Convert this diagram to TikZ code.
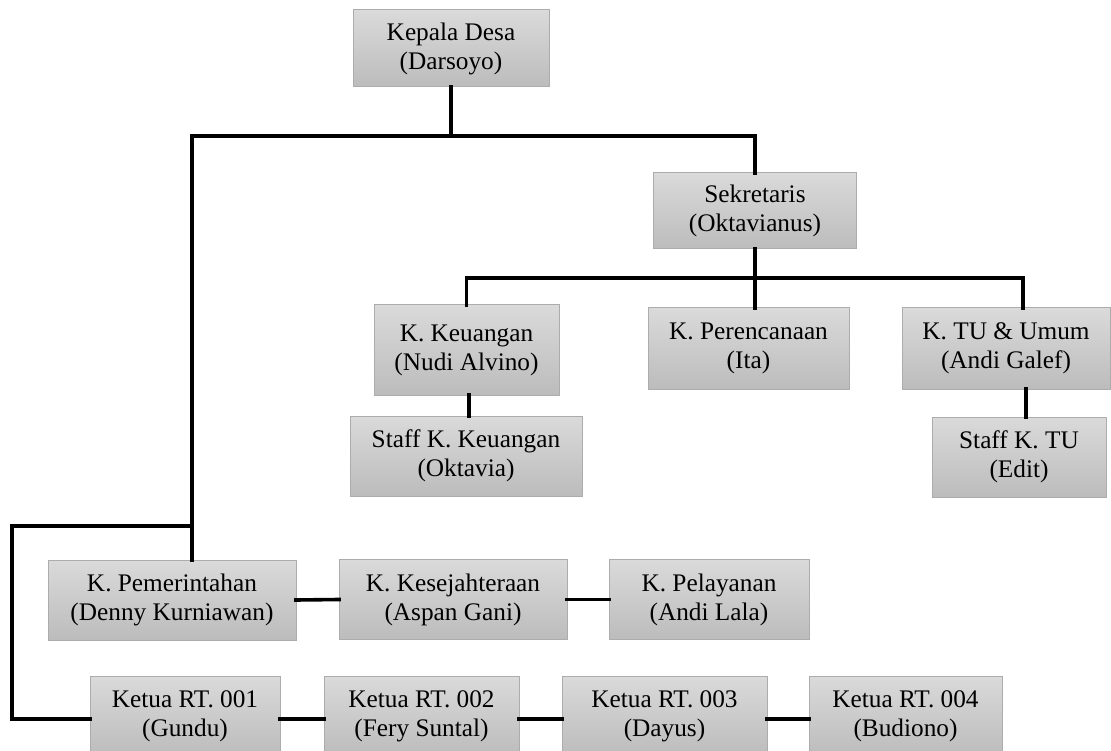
\documentclass[tikz,border=0pt]{standalone}
\usepackage{fontspec}
\setmainfont{Liberation Serif}
\definecolor{boxtop}{RGB}{218,218,218}
\definecolor{boxbot}{RGB}{188,188,188}
\definecolor{boxline}{RGB}{172,172,172}
\begin{document}
\begin{tikzpicture}[x=1pt,y=-1pt,
  orgbox/.style={draw=boxline,line width=1pt,top color=boxtop,bottom color=boxbot,
    inner sep=0pt,outer sep=0pt,align=center,
    font=\fontsize{25.3}{29}\selectfont},
  link/.style={line width=3.6pt,black,line cap=rect}]
\useasboundingbox (0,0) rectangle (1111,751);
% nodes
\node[orgbox,minimum width=196pt,minimum height=77pt] (kd) at (451,48.5) {Kepala Desa\\(Darsoyo)};
\node[orgbox,minimum width=203pt,minimum height=76pt] (sek) at (755,211) {Sekretaris\\(Oktavianus)};
\node[orgbox,minimum width=185pt,minimum height=90pt] (keu) at (466.5,350) {K. Keuangan\\(Nudi Alvino)};
\node[orgbox,minimum width=201pt,minimum height=81pt] (per) at (748.5,348.5) {K. Perencanaan\\(Ita)};
\node[orgbox,minimum width=208pt,minimum height=81pt] (tu) at (1006,348.5) {K. TU \& Umum\\(Andi Galef)};
\node[orgbox,minimum width=232pt,minimum height=80pt] (skeu) at (466,456) {Staff K. Keuangan\\(Oktavia)};
\node[orgbox,minimum width=174pt,minimum height=80pt] (stu) at (1019,457) {Staff K. TU\\(Edit)};
\node[orgbox,minimum width=248pt,minimum height=80pt] (pem) at (172,600) {K. Pemerintahan\\(Denny Kurniawan)};
\node[orgbox,minimum width=228pt,minimum height=80pt] (kes) at (453,599.5) {K. Kesejahteraan\\(Aspan Gani)};
\node[orgbox,minimum width=200pt,minimum height=80pt] (pel) at (709,599.5) {K. Pelayanan\\(Andi Lala)};
\node[orgbox,minimum width=190pt,minimum height=80pt] (rt1) at (185,716) {Ketua RT. 001\\(Gundu)};
\node[orgbox,minimum width=195pt,minimum height=80pt] (rt2) at (421.5,716) {Ketua RT. 002\\(Fery Suntal)};
\node[orgbox,minimum width=205pt,minimum height=80pt] (rt3) at (664.5,716) {Ketua RT. 003\\(Dayus)};
\node[orgbox,minimum width=193pt,minimum height=80pt] (rt4) at (905.5,716) {Ketua RT. 004\\(Budiono)};
% junctions
\coordinate (j1) at (451,136);
\coordinate (j2) at (192,526);
\coordinate (j3) at (753,278);
\coordinate (jl) at (12,526);
\coordinate (pemtop) at ([xshift=20pt]pem.north);
\coordinate (tutop) at ([xshift=17pt]tu.north);
\coordinate (tubot) at ([xshift=20pt]tu.south);
\coordinate (keubot) at ([xshift=2.5pt]keu.south);
% connectors
\draw[link] (kd.south) -- (j1);
\draw[link] (pemtop) -- (pemtop |- j1) -| (sek.north);
\draw[link] (j2) -- (jl) |- ([yshift=-3pt]rt1.west);
\draw[link] (sek.south) -- (sek.south |- per.north);
\draw[link] (keu.north) |- (j3) -| (tutop);
\draw[link] (keubot) -- (keubot |- skeu.north);
\draw[link] (tubot) -- (tubot |- stu.north);
\draw[link] (pem.east) -- (kes.west);
\draw[link] (kes.east) -- (pel.west);
\draw[link] ([yshift=-3pt]rt1.east) -- ([yshift=-3pt]rt2.west);
\draw[link] ([yshift=-3pt]rt2.east) -- ([yshift=-3pt]rt3.west);
\draw[link] ([yshift=-3pt]rt3.east) -- ([yshift=-3pt]rt4.west);
\end{tikzpicture}
\end{document}
